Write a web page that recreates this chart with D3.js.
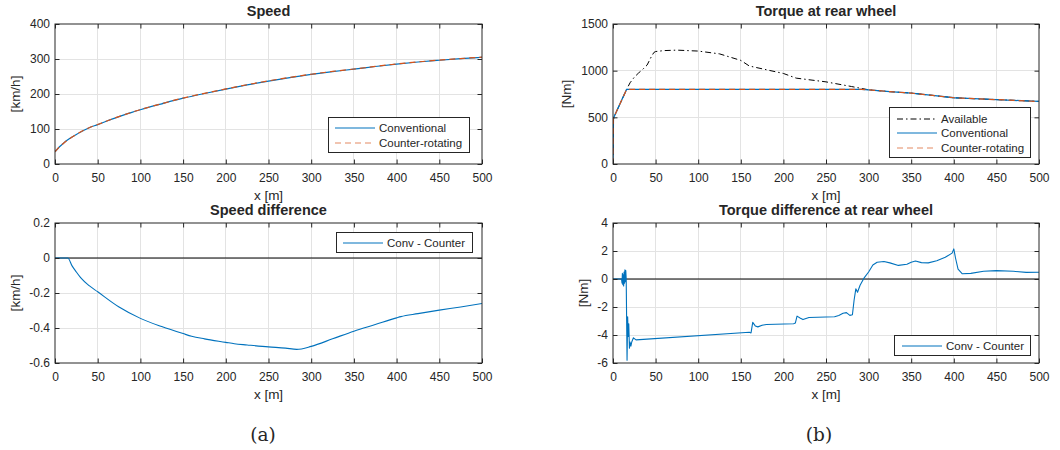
<!DOCTYPE html>
<html>
<head>
<meta charset="utf-8">
<script src="https://cdn.jsdelivr.net/npm/d3@7"></script>
<style>
  html, body { margin: 0; padding: 0; background: #fff; }
  svg { display: block; }
  text { font-family: "Liberation Sans", Arial, Helvetica, sans-serif; fill: #262626; }
</style>
</head>
<body>
<svg id="chart" width="1060" height="450"></svg>
<script>
// ---------------- DATA ----------------
const xTicks = [0, 50, 100, 150, 200, 250, 300, 350, 400, 450, 500];

// Speed [km/h]
const speedX       = [0, 5, 10, 15, 20, 25, 30, 40, 50, 60, 70, 80, 90, 100, 125, 150, 175, 200, 225, 250, 275, 300, 325, 350, 375, 400, 425, 450, 475, 500];
const speedConv    = [35, 48.5, 59.5, 69, 77, 84.5, 91.5, 103.5, 112.5, 122, 131, 139.5, 147.5, 155, 172, 188, 201.5, 214, 226, 237, 247, 256, 264, 271, 278.5, 285.5, 291.5, 296.5, 301, 305];
const speedCounter = [35, 48.5, 59.5, 69, 77.1, 84.6, 91.6, 103.7, 112.7, 122.2, 131.3, 139.8, 147.8, 155.3, 172.4, 188.4, 201.9, 214.5, 226.5, 237.5, 247.5, 256.5, 264.5, 271.4, 278.9, 285.8, 291.8, 296.8, 301.3, 305.3];
const speedTicks   = [0, 100, 200, 300, 400];

// Speed difference [km/h]
const speedDiffX = [0, 15, 20, 25, 30, 40, 50, 75, 100, 125, 150, 160, 175, 200, 210, 225, 250, 270, 283, 300, 325, 350, 375, 400, 405, 425, 450, 475, 500];
const speedDiff  = [0, 0, -0.045, -0.08, -0.112, -0.158, -0.193, -0.28, -0.345, -0.392, -0.432, -0.447, -0.462, -0.482, -0.49, -0.497, -0.508, -0.515, -0.522, -0.505, -0.462, -0.418, -0.38, -0.342, -0.335, -0.318, -0.298, -0.28, -0.26];
const speedDiffTicks = [-0.6, -0.4, -0.2, 0, 0.2];

// Torque at rear wheel [Nm]
const availX  = [0, 0.5, 1, 16, 20, 25, 30, 35, 40, 45, 48, 50, 60, 75, 100, 125, 150, 160, 175, 200, 215, 250, 280, 300, 325, 350, 375, 400, 410, 450, 500];
const availT  = [0, 480, 500, 800, 870, 930, 975, 1015, 1060, 1150, 1195, 1205, 1215, 1220, 1210, 1180, 1110, 1050, 1020, 970, 920, 880, 830, 795, 775, 760, 735, 710, 705, 690, 670];
const convX   = [0, 0.5, 1, 16, 292, 300, 325, 350, 375, 400, 410, 450, 500];
const convT   = [0, 480, 500, 800, 800, 795, 775, 760, 735, 710, 705, 690, 670];
const counterX = [0, 0.5, 1, 16, 292, 300, 325, 350, 375, 400, 410, 450, 500];
const counterT = [0, 480, 500, 800, 800, 795, 775, 760, 735, 710, 705, 690, 670];
const torqueTicks = [0, 500, 1000, 1500];

// Torque difference [Nm]
const torqueDiffX = [0, 10, 10.6, 11, 11.5, 12, 12.5, 13, 13.5, 14, 14.5, 15, 15.5, 16.5, 17.2, 17.8, 18.5, 19.3, 20, 21, 22, 24, 27,
  160, 162, 164, 167, 170, 175, 180, 212, 214, 216, 220, 223, 230, 260, 265, 270, 274, 278, 281, 283, 285, 287, 290, 295, 300, 305, 310, 318,
  325, 335, 345, 350, 355, 362, 370, 380, 390, 398, 400, 402, 405, 410, 420, 435, 450, 470, 485, 500];
const torqueDiff = [0, 0, -0.3, 0.4, -0.4, 0.3, -0.5, 0.5, -0.3, 0.65, -0.2, 0.6, 0, -5.8, -2.7, -4.1, -3.2, -4.95, -4.5, -4.8, -4.5, -4.2, -4.35,
  -3.8, -3.85, -3.1, -3.35, -3.42, -3.3, -3.25, -3.2, -3.15, -2.65, -2.8, -2.9, -2.75, -2.7, -2.6, -2.45, -2.4, -2.6, -2.55, -1.5, -0.7, -0.95, -0.45, 0.1, 0.5, 1.0, 1.2, 1.25,
  1.15, 0.97, 1.05, 1.2, 1.28, 1.17, 1.15, 1.3, 1.55, 1.85, 2.15, 1.5, 0.7, 0.37, 0.4, 0.55, 0.6, 0.55, 0.47, 0.48];
const torqueDiffTicks = [-6, -4, -2, 0, 2, 4];

// ---------------- STYLE ----------------
const BLUE = "#0072BD", ORANGE = "#D95319", ORANGE_LIGHT = "#E38A62", AXIS = "#262626", GRID = "#e3e3e3";
const svg = d3.select("#chart");
const TICK = 4.5;
const fmt = d => String(d);

function panel(cfg) {
  const { x0, x1, y0, y1 } = cfg.box;
  const x = d3.scaleLinear().domain([0, 500]).range([x0, x1]);
  const y = d3.scaleLinear().domain(cfg.yDomain).range([y1, y0]);
  const g = svg.append("g");

  // grid
  g.append("g").selectAll("line").data(xTicks.slice(1, -1)).join("line")
    .attr("x1", d => x(d)).attr("x2", d => x(d)).attr("y1", y0).attr("y2", y1)
    .attr("stroke", GRID).attr("stroke-width", 1).attr("shape-rendering", "crispEdges");
  g.append("g").selectAll("line").data(cfg.yTicks.slice(1, -1)).join("line")
    .attr("y1", d => y(d)).attr("y2", d => y(d)).attr("x1", x0).attr("x2", x1)
    .attr("stroke", GRID).attr("stroke-width", 1).attr("shape-rendering", "crispEdges");

  // zero line
  if (cfg.zeroLine) {
    g.append("line").attr("x1", x0).attr("x2", x1).attr("y1", y(0)).attr("y2", y(0))
      .attr("stroke", "#000").attr("stroke-width", 1.1);
  }

  // series
  const clipId = "clip-" + cfg.id;
  g.append("clipPath").attr("id", clipId).append("rect")
    .attr("x", x0).attr("y", y0 - 1).attr("width", x1 - x0).attr("height", y1 - y0 + 2);
  const sg = g.append("g").attr("clip-path", `url(#${clipId})`);
  cfg.series.forEach(s => {
    const pts = s.xs.map((v, i) => [v, s.ys[i]]);
    const line = d3.line().x(d => x(d[0])).y(d => y(d[1])).curve(s.curve || d3.curveLinear);
    sg.append("path").datum(pts).attr("d", line)
      .attr("fill", "none").attr("stroke", s.color).attr("stroke-width", s.width || 1.2)
      .attr("stroke-dasharray", s.dash || null).attr("stroke-linejoin", "round");
  });

  // axes (inward ticks)
  const ax = g.append("g").attr("transform", `translate(0,${y1})`)
    .call(d3.axisBottom(x).tickValues(xTicks).tickSize(-TICK).tickPadding(9.5).tickFormat(fmt));
  const axT = g.append("g").attr("transform", `translate(0,${y0})`)
    .call(d3.axisTop(x).tickValues(xTicks).tickSize(-TICK).tickFormat(""));
  const ay = g.append("g").attr("transform", `translate(${x0},0)`)
    .call(d3.axisLeft(y).tickValues(cfg.yTicks).tickSize(-TICK).tickPadding(5).tickFormat(fmt));
  const ayR = g.append("g").attr("transform", `translate(${x1},0)`)
    .call(d3.axisRight(y).tickValues(cfg.yTicks).tickSize(-TICK).tickFormat(""));
  [ax, axT, ay, ayR].forEach(a => {
    a.select(".domain").remove();
    a.selectAll(".tick line").attr("stroke", AXIS);
    a.selectAll(".tick text").attr("fill", AXIS).style("font-size", "12px")
      .style("font-family", '"Liberation Sans", Arial, sans-serif');
  });
  g.append("rect").attr("x", x0).attr("y", y0).attr("width", x1 - x0).attr("height", y1 - y0)
    .attr("fill", "none").attr("stroke", AXIS).attr("stroke-width", 1);

  // labels
  g.append("text").attr("x", (x0 + x1) / 2).attr("y", y0 - 8).attr("text-anchor", "middle")
    .style("font-size", "14.5px").style("font-weight", "bold").attr("fill", "#000").text(cfg.title);
  g.append("text").attr("x", (x0 + x1) / 2).attr("y", y1 + 36).attr("text-anchor", "middle")
    .style("font-size", "13.5px").text("x [m]");
  g.append("text").attr("transform", `translate(${cfg.yLabelX},${(y0 + y1) / 2}) rotate(-90)`)
    .attr("text-anchor", "middle").style("font-size", "13.5px").text(cfg.yLabel);

  // legend
  const L = cfg.legend;
  const lg = g.append("g");
  lg.append("rect").attr("x", L.x + 0.5).attr("y", L.y + 0.5).attr("width", L.w).attr("height", L.h)
    .attr("fill", "#fff").attr("stroke", AXIS).attr("stroke-width", 1);
  L.items.forEach((it, i) => {
    const cy = Math.round(L.y + L.first + i * L.step);
    lg.append("line").attr("x1", L.x + L.lx0).attr("x2", L.x + L.lx1).attr("y1", cy).attr("y2", cy)
      .attr("stroke", it.color).attr("stroke-width", it.width || 1.2)
      .attr("stroke-dasharray", it.dash || null);
    lg.append("text").attr("x", L.x + L.tx).attr("y", cy).attr("dy", "0.36em")
      .style("font-size", "11.5px").text(it.label);
  });
  return { x, y };
}

const DASH = "6,4";
const DASHDOT = "6,3,1.5,3";

panel({
  id: "speed",
  box: { x0: 55, x1: 482, y0: 24, y1: 164 },
  yDomain: [0, 400], yTicks: speedTicks, title: "Speed", yLabel: "[km/h]", yLabelX: 20,
  series: [
    { xs: speedX, ys: speedConv, color: BLUE, curve: d3.curveMonotoneX },
    { xs: speedX, ys: speedCounter, color: ORANGE, dash: DASH, curve: d3.curveMonotoneX }
  ],
  legend: { x: 328, y: 117, w: 141, h: 35, first: 10.5, step: 15, lx0: 7, lx1: 47, tx: 51,
    items: [
      { label: "Conventional", color: BLUE },
      { label: "Counter-rotating", color: ORANGE_LIGHT, dash: DASH }
    ] }
});

panel({
  id: "torque",
  box: { x0: 613, x1: 1039, y0: 24, y1: 164 },
  yDomain: [0, 1500], yTicks: torqueTicks, title: "Torque at rear wheel", yLabel: "[Nm]", yLabelX: 571,
  series: [
    { xs: availX, ys: availT, color: "#000", dash: DASHDOT, width: 1 },
    { xs: convX, ys: convT, color: BLUE, width: 1.3 },
    { xs: counterX, ys: counterT, color: ORANGE, dash: DASH }
  ],
  legend: { x: 889, y: 107, w: 141, h: 50, first: 11.5, step: 14.5, lx0: 8, lx1: 48, tx: 52,
    items: [
      { label: "Available", color: "#000", dash: DASHDOT, width: 1 },
      { label: "Conventional", color: BLUE },
      { label: "Counter-rotating", color: ORANGE_LIGHT, dash: DASH }
    ] }
});

panel({
  id: "speeddiff",
  box: { x0: 55, x1: 482, y0: 223, y1: 363 },
  yDomain: [-0.6, 0.2], yTicks: speedDiffTicks, title: "Speed difference", yLabel: "[km/h]", yLabelX: 20,
  zeroLine: true,
  series: [
    { xs: speedDiffX, ys: speedDiff, color: BLUE, curve: d3.curveMonotoneX, width: 1.1 }
  ],
  legend: { x: 336, y: 232, w: 136, h: 20, first: 11, step: 15, lx0: 7, lx1: 47, tx: 51,
    items: [ { label: "Conv - Counter", color: BLUE } ] }
});

panel({
  id: "torquediff",
  box: { x0: 613, x1: 1039, y0: 223, y1: 363 },
  yDomain: [-6, 4], yTicks: torqueDiffTicks, title: "Torque difference at rear wheel", yLabel: "[Nm]", yLabelX: 588,
  zeroLine: true,
  series: [
    { xs: torqueDiffX, ys: torqueDiff, color: BLUE, width: 1.1 }
  ],
  legend: { x: 894, y: 335, w: 136, h: 20, first: 10.5, step: 15, lx0: 8, lx1: 48, tx: 52,
    items: [ { label: "Conv - Counter", color: BLUE } ] }
});

svg.append("text").attr("x", 263).attr("y", 441).attr("text-anchor", "middle")
  .style("font-family", '"DejaVu Serif", "Liberation Serif", serif').style("font-size", "18.5px")
  .attr("fill", "#000").text("(a)");
svg.append("text").attr("x", 819).attr("y", 441).attr("text-anchor", "middle")
  .style("font-family", '"DejaVu Serif", "Liberation Serif", serif').style("font-size", "18.5px")
  .attr("fill", "#000").text("(b)");
</script>
</body>
</html>
